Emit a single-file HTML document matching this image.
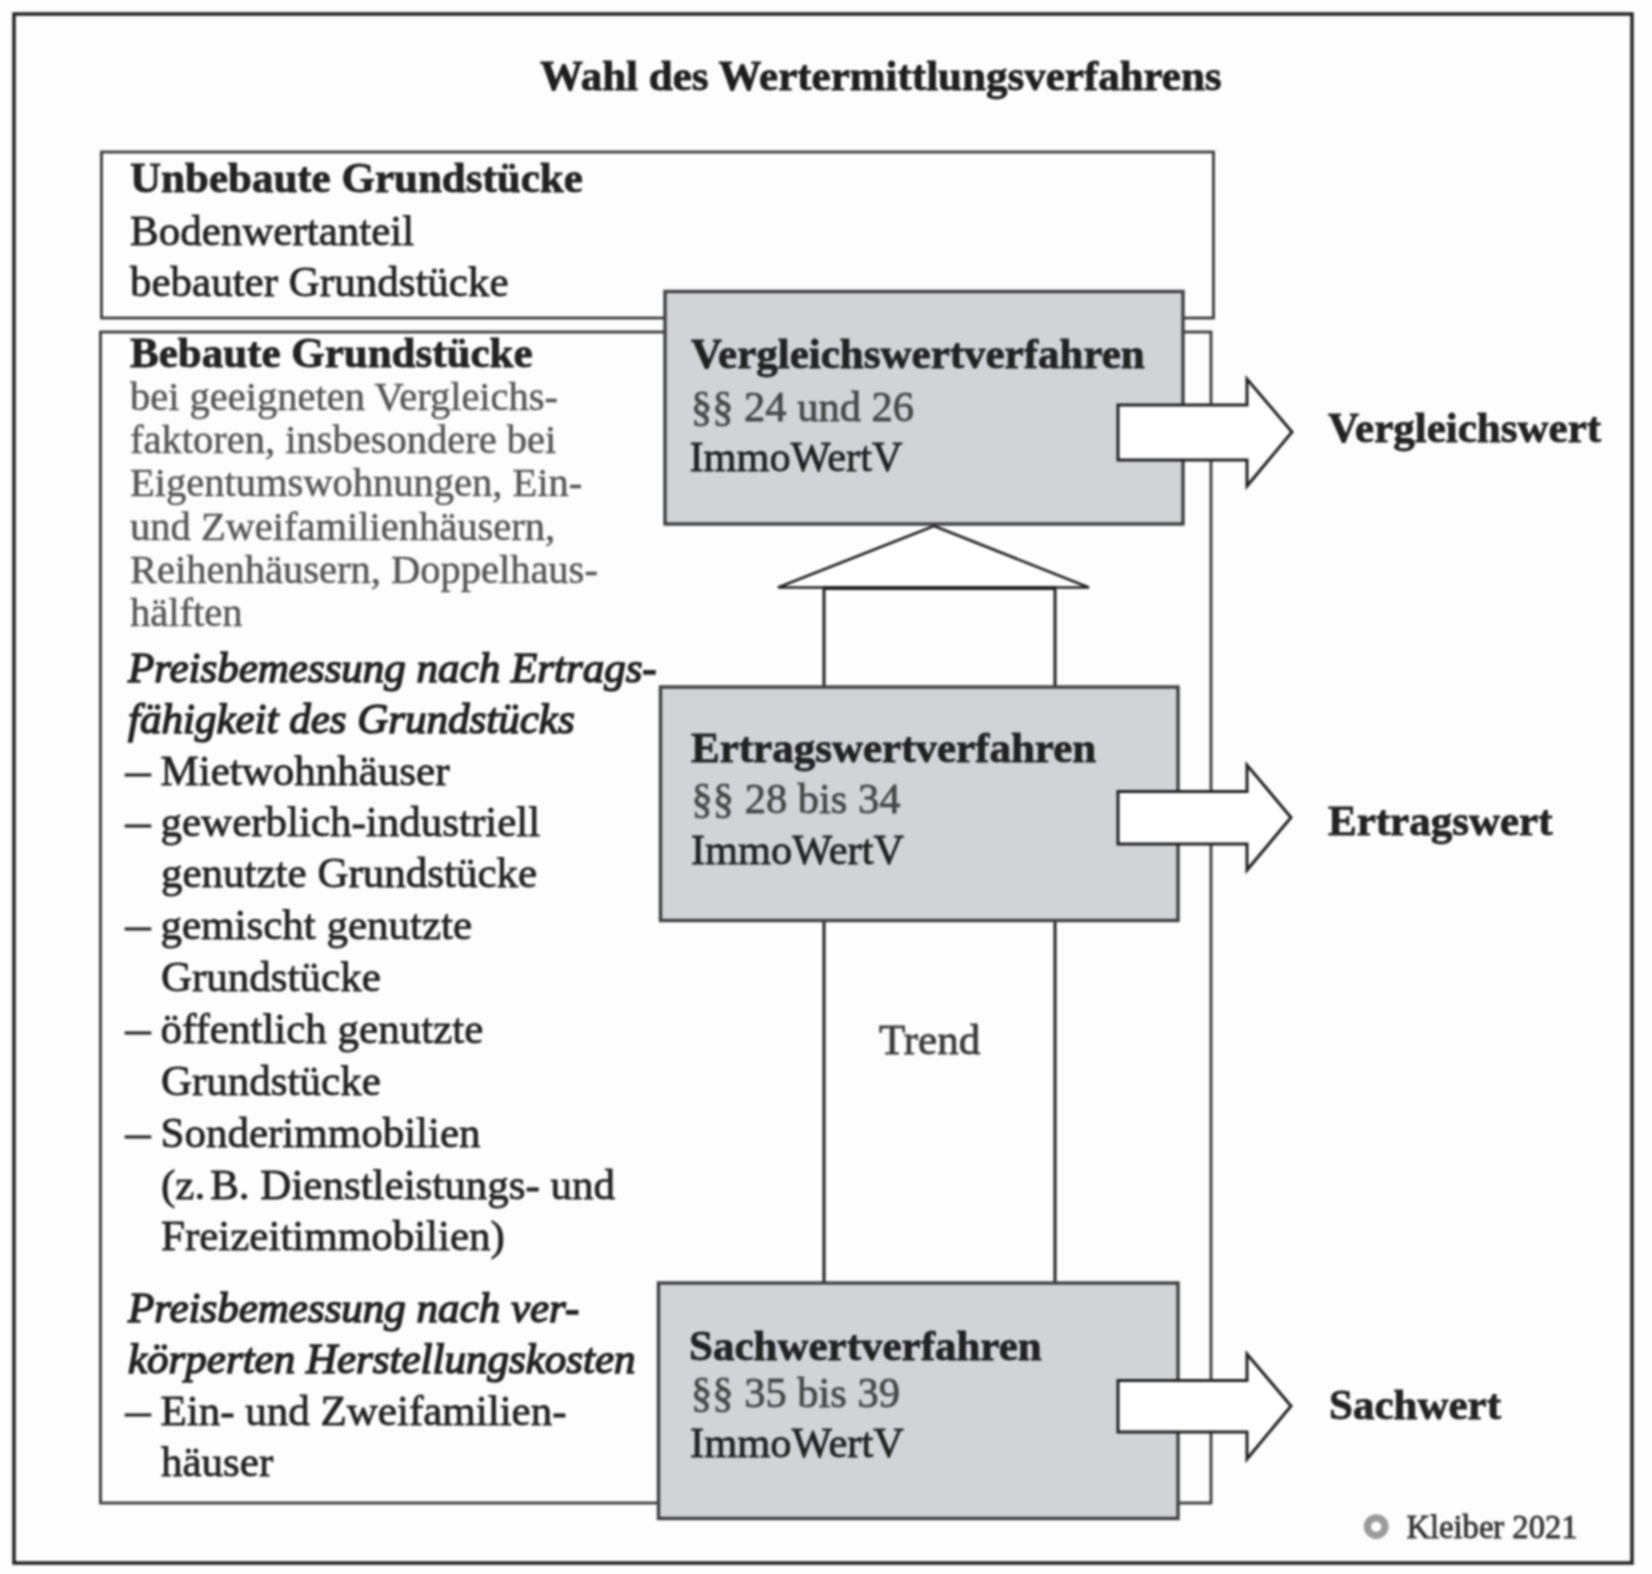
<!DOCTYPE html>
<html><head><meta charset="utf-8">
<style>
html,body{margin:0;padding:0;background:#fdfdfd;}
body{width:1652px;height:1574px;overflow:hidden;position:relative;}
svg{position:absolute;left:0;top:0;filter:blur(0.8px);}
text{font-family:"Liberation Serif",serif;}
.b{font-weight:bold;}
.i{font-style:italic;}
.bi{stroke:#222;stroke-width:1.5;}
</style></head><body>
<svg width="1652" height="1574" viewBox="0 0 1652 1574">
<!-- outer frame -->
<rect x="14" y="14" width="1618" height="1549" fill="none" stroke="#222" stroke-width="3.5"/>
<!-- title -->
<text x="540" y="90" font-size="43" class="b" fill="#1e1e1e" stroke="#1e1e1e" stroke-width="0.8">Wahl des Wertermittlungsverfahrens</text>

<!-- unbebaute box -->
<rect x="101.5" y="152" width="1112" height="166" fill="none" stroke="#3a3a3a" stroke-width="2.8"/>
<g font-size="43" fill="#222" stroke="#222" stroke-width="0.8">
<text x="130" y="192" class="b">Unbebaute Grundstücke</text>
<text x="130" y="245">Bodenwertanteil</text>
<text x="130" y="296">bebauter Grundstücke</text>
</g>

<!-- bebaute box -->
<rect x="100.5" y="332" width="1110.5" height="1171" fill="none" stroke="#3a3a3a" stroke-width="2.8"/>
<g font-size="43" fill="#222" stroke="#222" stroke-width="0.8">
<text x="130" y="367" class="b">Bebaute Grundstücke</text>
</g>
<g font-size="40.5" fill="#555" stroke="#555" stroke-width="0.5">
<text x="130" y="410">bei geeigneten Vergleichs-</text>
<text x="130" y="453">faktoren, insbesondere bei</text>
<text x="130" y="496">Eigentumswohnungen, Ein-</text>
<text x="130" y="540">und Zweifamilienhäusern,</text>
<text x="130" y="583">Reihenhäusern, Doppelhaus-</text>
<text x="130" y="626">hälften</text>
</g>
<g font-size="43" fill="#222" stroke="#222" stroke-width="0.8">
<text x="128" y="682" class="i bi">Preisbemessung nach Ertrags-</text>
<text x="128" y="733" class="i bi">fähigkeit des Grundstücks</text>
<text x="125.5" y="785" textLength="25" lengthAdjust="spacingAndGlyphs">–</text><text x="160.5" y="785">Mietwohnhäuser</text>
<text x="125.5" y="836" textLength="25" lengthAdjust="spacingAndGlyphs">–</text><text x="160.5" y="836">gewerblich-industriell</text>
<text x="161" y="887">genutzte Grundstücke</text>
<text x="125.5" y="939" textLength="25" lengthAdjust="spacingAndGlyphs">–</text><text x="160.5" y="939">gemischt genutzte</text>
<text x="161" y="991">Grundstücke</text>
<text x="125.5" y="1043" textLength="25" lengthAdjust="spacingAndGlyphs">–</text><text x="160.5" y="1043">öffentlich genutzte</text>
<text x="161" y="1095">Grundstücke</text>
<text x="125.5" y="1147" textLength="25" lengthAdjust="spacingAndGlyphs">–</text><text x="160.5" y="1147">Sonderimmobilien</text>
<text x="161" y="1199">(z.<tspan dx="5">B. Dienstleistungs- und</tspan></text>
<text x="161" y="1250">Freizeitimmobilien)</text>
<text x="128" y="1322" class="i bi">Preisbemessung nach ver-</text>
<text x="128" y="1373" class="i bi">körperten Herstellungskosten</text>
<text x="125.5" y="1425" textLength="25" lengthAdjust="spacingAndGlyphs">–</text><text x="160.5" y="1425">Ein- und Zweifamilien-</text>
<text x="161" y="1476">häuser</text>
</g>

<!-- column between boxes -->
<g fill="none" stroke="#222" stroke-width="3">
<polyline points="824,688 824,587 1055,587 1055,688"/>
<line x1="824" y1="920" x2="824" y2="1283"/>
<line x1="1055" y1="920" x2="1055" y2="1283"/>
<polygon points="934,526 778,587.5 1089,587.5" fill="#fff" stroke-width="2.6" stroke-linejoin="miter"/>
<line x1="823" y1="588" x2="1056" y2="588" stroke-width="4"/>
</g>

<!-- gray boxes -->
<g fill="#d1d3d7" stroke="#404040" stroke-width="3.4">
<rect x="665" y="291.5" width="518" height="232.5"/>
<rect x="660.5" y="687" width="517.5" height="233.5"/>
<rect x="658.5" y="1283" width="519.5" height="235.5"/>
</g>
<g font-size="43" fill="#222" stroke="#222" stroke-width="0.8">
<text x="691" y="368" class="b">Vergleichswertverfahren</text>
<text x="691" y="421" fill="#484848" stroke="#484848" textLength="223" lengthAdjust="spacingAndGlyphs">§§ 24 und 26</text>
<text x="689.5" y="470.5" textLength="213" lengthAdjust="spacingAndGlyphs">ImmoWertV</text>
<text x="691" y="762" class="b">Ertragswertverfahren</text>
<text x="691.5" y="812.5" fill="#484848" stroke="#484848" textLength="209" lengthAdjust="spacingAndGlyphs">§§ 28 bis 34</text>
<text x="691" y="863.5" textLength="213" lengthAdjust="spacingAndGlyphs">ImmoWertV</text>
<text x="689" y="1359.5" class="b">Sachwertverfahren</text>
<text x="691" y="1406.5" fill="#484848" stroke="#484848" textLength="209" lengthAdjust="spacingAndGlyphs">§§ 35 bis 39</text>
<text x="690" y="1457" textLength="214" lengthAdjust="spacingAndGlyphs">ImmoWertV</text>
<text x="879" y="1054" fill="#3a3a3a" stroke="#3a3a3a">Trend</text>
</g>

<!-- arrows -->
<g fill="#fff" stroke="#222" stroke-width="3">
<polygon points="1118,405 1247,405 1247,379 1292,432 1247,486 1247,460 1118,460"/>
<polygon points="1118,791.5 1247,791.5 1247,765 1291,817.5 1247,870 1247,844 1118,844"/>
<polygon points="1118,1380.5 1247,1380.5 1247,1354 1291,1406 1247,1459 1247,1432 1118,1432"/>
</g>
<g font-size="43" fill="#222" class="b" stroke="#222" stroke-width="0.8">
<text x="1328" y="442" class="b">Vergleichswert</text>
<text x="1328" y="834.5" class="b">Ertragswert</text>
<text x="1329" y="1419" class="b">Sachwert</text>
</g>
<circle cx="1376.2" cy="1526.6" r="8.8" fill="none" stroke="#9a9a9a" stroke-width="7.2"/>
<text x="1406.5" y="1537.5" font-size="33" fill="#333" stroke="#333" stroke-width="0.8" textLength="171" lengthAdjust="spacingAndGlyphs">Kleiber 2021</text>
</svg>
</body></html>
